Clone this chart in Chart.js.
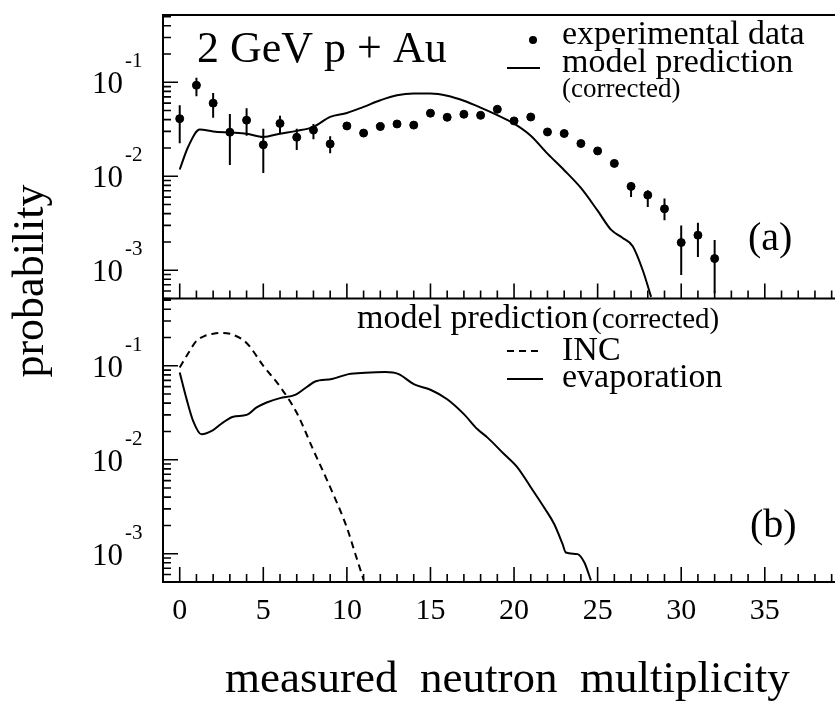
<!DOCTYPE html>
<html>
<head>
<meta charset="utf-8">
<script src="https://cdn.jsdelivr.net/npm/chart.js@4.4.1/dist/chart.umd.min.js"></script>
<style>
  html, body { margin: 0; padding: 0; background: #fff; }
  canvas { display: block; }
</style>
</head>
<body>
<canvas id="neutronChart" width="840" height="702"></canvas>
<script>
// measured multiplicity, panel (a): experimental points with error bars
const expX = [0, 1, 2, 3, 4, 5, 6, 7, 8, 9, 10, 11, 12, 13, 14, 15, 16, 17, 18, 19, 20,
              21, 22, 23, 24, 25, 26, 27, 28, 29, 30, 31, 32];
const expY = [0.041, 0.093, 0.060, 0.0294, 0.0395, 0.0216, 0.0365, 0.026, 0.031, 0.0221,
              0.0343, 0.0288, 0.0338, 0.036, 0.035, 0.0469, 0.0424, 0.0457, 0.0445, 0.0516,
              0.0388, 0.0427, 0.0296, 0.0285, 0.0223, 0.0186, 0.0137, 0.0078, 0.0063, 0.0045,
              0.00197, 0.00236, 0.00133];
const expHi = [0.057, 0.112, 0.077, 0.046, 0.053, 0.032, 0.044, 0.032, 0.036, 0.0267,
               null, null, null, null, null, null, null, null, null, null, null,
               null, null, null, null, null, null, 0.0086, 0.0071, 0.0058, 0.0030, 0.0032, 0.0021];
const expLo = [0.0225, 0.071, 0.042, 0.0132, 0.027, 0.0108, 0.0285, 0.019, 0.0247, 0.0176,
               null, null, null, null, null, null, null, null, null, null, null,
               null, null, null, null, null, null, 0.0060, 0.0047, 0.0034, 0.00089, 0.00138, 0.00057];

// panel (a): model prediction (corrected)
const modelX = [0, 0.5, 1.2, 2, 3, 4, 5, 6, 7, 8, 9, 10, 11, 12, 13, 14, 15, 16, 17, 18,
                19, 20, 21, 22, 23, 24, 25, 25.8, 26.5, 27.1, 27.7, 28.2];
const modelY = [0.0118, 0.0205, 0.0314, 0.030, 0.0292, 0.0284, 0.0262, 0.0284, 0.0304, 0.0335,
                0.0428, 0.0471, 0.0547, 0.0643, 0.0727, 0.0758, 0.0758, 0.072, 0.0636, 0.0538,
                0.0447, 0.0363, 0.027, 0.0174, 0.0116, 0.0075, 0.0043, 0.0027, 0.0022, 0.0018,
                0.0010, 0.00052];

// panel (b): INC and evaporation components
const incX = [0, 0.5, 1, 1.5, 2, 2.5, 3, 4, 5, 6, 7, 8, 9, 10, 10.5, 11];
const incY = [0.096, 0.135, 0.184, 0.208, 0.219, 0.224, 0.219, 0.175, 0.10, 0.06, 0.0316,
              0.0126, 0.0051, 0.0019, 0.001, 0.00053];
const evapX = [0, 0.4, 0.8, 1.3, 2.0, 2.6, 3.2, 4.0, 4.6, 5.2, 6.0, 6.9, 7.7, 8.1, 9.1, 10.1,
               11.1, 12.3, 13.1, 14.0, 15.0, 16.0, 17.0, 17.8, 18.4, 19.4, 20.2, 21.0, 21.8,
               22.4, 22.9, 23.1, 23.8, 24.2, 24.6];
const evapY = [0.085, 0.045, 0.026, 0.0187, 0.0207, 0.025, 0.0287, 0.030, 0.036, 0.0407,
               0.0453, 0.049, 0.0612, 0.068, 0.0722, 0.0815, 0.0843, 0.0857, 0.0815, 0.0638,
               0.0556, 0.0441, 0.0306, 0.0212, 0.0173, 0.0115, 0.0083, 0.0051, 0.0031,
               0.00207, 0.00127, 0.00103, 0.00099, 0.00081, 0.00052];

// axes
const xTickLabels = [0, 5, 10, 15, 20, 25, 30, 35];
const yTickExponents = [-1, -2, -3];

const SERIF = "'Liberation Serif', 'Times New Roman', serif";

const pts = (xs, ys) => xs.map((x, i) => ({ x: x, y: ys[i] }));

// error bars as short vertical segments split by gaps
const errSegments = [];
expX.forEach((x, i) => {
  if (expLo[i] === null) return;
  errSegments.push({ x: x, y: expLo[i] }, { x: x, y: expHi[i] }, { x: x, y: null });
});

// frame, inward ticks and all the paper-style text
const paperFrame = {
  id: 'paperFrame',
  afterDatasetsDraw(chart) {
    const ctx = chart.ctx;
    const xs = chart.scales.x;
    const yT = chart.scales.yTop;
    const yB = chart.scales.yBot;
    const L = chart.chartArea.left;
    const R = chart.chartArea.right;

    ctx.save();
    ctx.strokeStyle = '#000';
    ctx.fillStyle = '#000';

    ctx.lineWidth = 2;
    ctx.beginPath();
    ctx.moveTo(R, yT.top); ctx.lineTo(L, yT.top);
    ctx.lineTo(L, yB.bottom); ctx.lineTo(R, yB.bottom);
    ctx.moveTo(L, yT.bottom); ctx.lineTo(R, yT.bottom);
    ctx.stroke();

    ctx.lineWidth = 1.6;
    ctx.beginPath();
    for (let n = 0; n <= 39; n++) {
      const px = xs.getPixelForValue(n);
      const len = n % 5 === 0 ? 15 : 8;
      [yT.bottom, yB.bottom].forEach(base => {
        ctx.moveTo(px, base);
        ctx.lineTo(px, base - len);
      });
    }
    [yT, yB].forEach(sc => {
      for (let d = -4; d <= 0; d++) {
        for (let m = 1; m <= 9; m++) {
          const v = m * Math.pow(10, d);
          if (v < sc.min * 0.999 || v > sc.max) continue;
          const py = sc.getPixelForValue(v);
          ctx.moveTo(L, py);
          ctx.lineTo(L + (m === 1 ? 15 : 8), py);
        }
      }
    });
    ctx.stroke();

    // x tick labels
    ctx.font = '30px ' + SERIF;
    ctx.textAlign = 'center';
    ctx.textBaseline = 'alphabetic';
    xTickLabels.forEach(v => ctx.fillText(String(v), xs.getPixelForValue(v), 619));

    // y tick labels 10^-n
    [yT, yB].forEach(sc => {
      yTickExponents.forEach(e => {
        const py = sc.getPixelForValue(Math.pow(10, e));
        ctx.font = '31px ' + SERIF;
        ctx.textAlign = 'right';
        ctx.fillText('10', 123, py + 11);
        ctx.font = '21px ' + SERIF;
        ctx.textAlign = 'left';
        ctx.fillText('-' + Math.abs(e), 125, py - 15);
      });
    });

    // axis titles
    ctx.font = '45px ' + SERIF;
    ctx.textAlign = 'left';
    ctx.fillText('measured  neutron  multiplicity', 225, 692);
    ctx.save();
    ctx.translate(43, 281);
    ctx.rotate(-Math.PI / 2);
    ctx.font = '44px ' + SERIF;
    ctx.textAlign = 'center';
    ctx.fillText('probability', 0, 0);
    ctx.restore();

    // panel (a) annotations
    ctx.textAlign = 'left';
    ctx.font = '44px ' + SERIF;
    ctx.fillText('2 GeV p + Au', 197, 62);
    ctx.font = '34px ' + SERIF;
    ctx.fillText('experimental data', 562, 44);
    ctx.fillText('model prediction', 562, 72);
    ctx.font = '27px ' + SERIF;
    ctx.fillText('(corrected)', 562, 97);
    ctx.font = '40px ' + SERIF;
    ctx.fillText('(a)', 748, 250);
    ctx.beginPath();
    ctx.arc(533, 40, 4, 0, Math.PI * 2);
    ctx.fill();
    ctx.lineWidth = 2;
    ctx.beginPath();
    ctx.moveTo(507, 68); ctx.lineTo(540, 68);
    ctx.stroke();

    // panel (b) annotations
    ctx.font = '34px ' + SERIF;
    ctx.fillText('model prediction', 357, 328);
    ctx.fillText('INC', 562, 360);
    ctx.fillText('evaporation', 562, 387);
    ctx.font = '29px ' + SERIF;
    ctx.fillText('(corrected)', 592, 328);
    ctx.font = '40px ' + SERIF;
    ctx.fillText('(b)', 750, 537);
    ctx.beginPath();
    ctx.moveTo(507, 379); ctx.lineTo(543, 379);
    ctx.stroke();
    ctx.setLineDash([7, 5]);
    ctx.beginPath();
    ctx.moveTo(507, 351); ctx.lineTo(542, 351);
    ctx.stroke();
    ctx.restore();
  }
};

const ctx = document.getElementById('neutronChart').getContext('2d');

const neutronChart = new Chart(ctx, {
  type: 'line',
  data: {
    datasets: [
      {
        type: 'scatter',
        label: 'experimental data',
        data: pts(expX, expY),
        yAxisID: 'yTop',
        pointRadius: 4,
        pointBackgroundColor: '#000',
        pointBorderColor: '#000',
        showLine: false
      },
      {
        label: 'error bars',
        data: errSegments,
        yAxisID: 'yTop',
        borderColor: '#000',
        borderWidth: 2,
        pointRadius: 0,
        spanGaps: false
      },
      {
        label: 'model prediction (corrected)',
        data: pts(modelX, modelY),
        yAxisID: 'yTop',
        borderColor: '#000',
        borderWidth: 2,
        pointRadius: 0,
        cubicInterpolationMode: 'monotone'
      },
      {
        label: 'INC',
        data: pts(incX, incY),
        yAxisID: 'yBot',
        borderColor: '#000',
        borderWidth: 2,
        borderDash: [7, 5],
        pointRadius: 0,
        cubicInterpolationMode: 'monotone'
      },
      {
        label: 'evaporation',
        data: pts(evapX, evapY),
        yAxisID: 'yBot',
        borderColor: '#000',
        borderWidth: 2,
        pointRadius: 0,
        cubicInterpolationMode: 'monotone'
      }
    ]
  },
  options: {
    responsive: false,
    animation: false,
    devicePixelRatio: 1,
    layout: { padding: { left: 163, top: 15, right: 0, bottom: 120 } },
    plugins: {
      legend: { display: false },
      tooltip: { enabled: false }
    },
    scales: {
      x: { type: 'linear', position: 'bottom', min: -1, max: 39.2, display: false },
      yTop: {
        type: 'logarithmic', position: 'left', stack: 'panels', stackWeight: 1, weight: 2,
        min: 0.0005, max: 0.52, display: false
      },
      yBot: {
        type: 'logarithmic', position: 'left', stack: 'panels', stackWeight: 1, weight: 1,
        min: 0.0005, max: 0.52, display: false
      }
    }
  },
  plugins: [paperFrame]
});
</script>
</body>
</html>
